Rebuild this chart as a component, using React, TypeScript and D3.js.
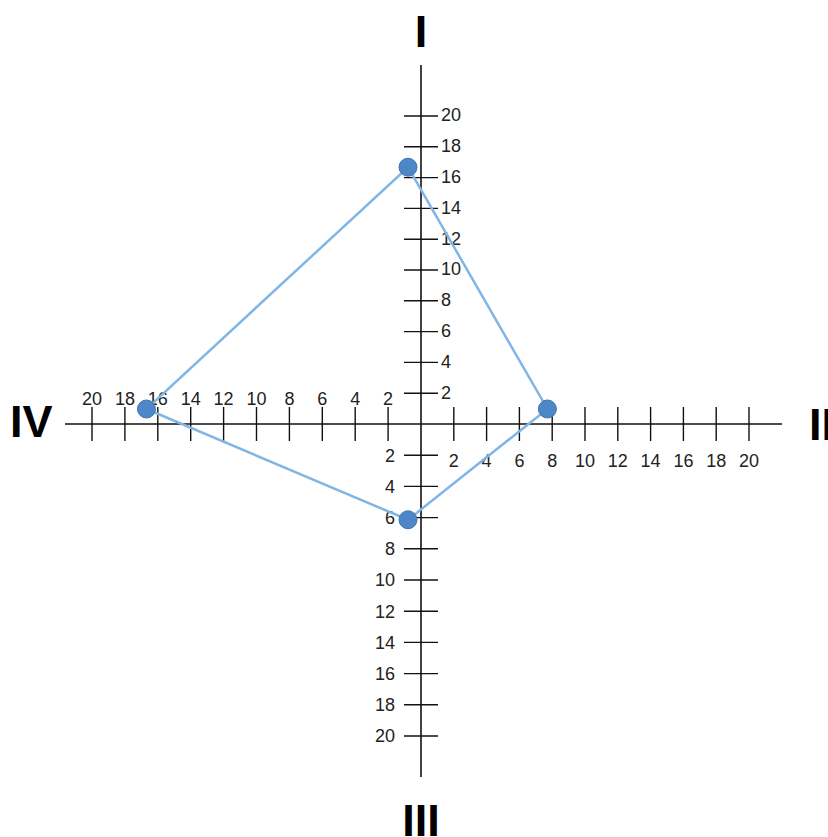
import React, { useRef, useEffect } from 'react'
import * as d3 from 'd3'

// axis names, clockwise from the top
const axisNames = ['I', 'II', 'III', 'IV']
// series values (one per axis)
const seriesValues = [15.7, 8.5, 7.1, 15.9]
// tick values shown on every axis
const tickValues = [2, 4, 6, 8, 10, 12, 14, 16, 18, 20]

function RadarAxes() {
    const svgRef = useRef<SVGSVGElement>(null)

    useEffect(() => {
        const svg = d3.select(svgRef.current)
        svg.selectAll('*').remove()

        const cx = 421, cy = 424
        // one scale per arm, the picture is not quite square
        const up = d3.scaleLinear().domain([0, 20]).range([cy, 116])
        const right = d3.scaleLinear().domain([0, 20]).range([cx, 749])
        const down = d3.scaleLinear().domain([0, 20]).range([cy, 736])
        const left = d3.scaleLinear().domain([0, 20]).range([cx, 92])

        const font = '"Liberation Sans", Arial, sans-serif'
        const g = svg.append('g')

        // axis lines
        g.append('line').attr('x1', cx).attr('x2', cx).attr('y1', 65).attr('y2', 777)
            .attr('stroke', '#111').attr('stroke-width', 1.6)
        g.append('line').attr('x1', 65).attr('x2', 782).attr('y1', cy).attr('y2', cy)
            .attr('stroke', '#111').attr('stroke-width', 1.6)

        const tl = 17
        // vertical arm ticks
        const vTicks = [
            ...tickValues.map(v => ({ v, y: up(v), side: 'r' })),
            ...tickValues.map(v => ({ v, y: down(v), side: 'l' })),
        ]
        g.selectAll('.vtick').data(vTicks).join('line').attr('class', 'vtick')
            .attr('x1', cx - tl).attr('x2', cx + tl)
            .attr('y1', d => d.y).attr('y2', d => d.y)
            .attr('stroke', '#111').attr('stroke-width', 1.4)
        g.selectAll('.vlab').data(vTicks).join('text').attr('class', 'vlab')
            .attr('x', d => d.side === 'r' ? cx + 20 : cx - 26)
            .attr('y', d => d.side === 'r' ? d.y - 1 : d.y)
            .attr('dy', '0.35em')
            .attr('text-anchor', d => d.side === 'r' ? 'start' : 'end')
            .attr('font-family', font).attr('font-size', 18).attr('fill', '#222')
            .text(d => d.v)

        // horizontal arm ticks
        const hTicks = [
            ...tickValues.map(v => ({ v, x: right(v), side: 'b' })),
            ...tickValues.map(v => ({ v, x: left(v), side: 't' })),
        ]
        g.selectAll('.htick').data(hTicks).join('line').attr('class', 'htick')
            .attr('x1', d => d.x).attr('x2', d => d.x)
            .attr('y1', cy - tl).attr('y2', cy + tl)
            .attr('stroke', '#111').attr('stroke-width', 1.4)
        g.selectAll('.hlab').data(hTicks).join('text').attr('class', 'hlab')
            .attr('x', d => d.x)
            .attr('y', d => d.side === 'b' ? 467 : 405)
            .attr('text-anchor', 'middle')
            .attr('font-family', font).attr('font-size', 18).attr('fill', '#222')
            .text(d => d.v)

        // arm titles
        const titles = [
            { t: axisNames[0], x: cx, y: 47, a: 'middle' },
            { t: axisNames[1], x: 809, y: 440, a: 'start' },
            { t: axisNames[2], x: cx, y: 836, a: 'middle' },
            { t: axisNames[3], x: 10, y: 437, a: 'start' },
        ]
        g.selectAll('.title').data(titles).join('text').attr('class', 'title')
            .attr('x', d => d.x).attr('y', d => d.y)
            .attr('text-anchor', d => d.a)
            .attr('font-family', font).attr('font-weight', 'bold').attr('font-size', 45)
            .attr('fill', '#000')
            .text(d => d.t)

        // the series sits on a slightly shifted origin, as in the original
        const ox = cx - 13, oy = cy - 15
        const k = (s: d3.ScaleLinear<number, number>) => (v: number) => s(v) - s(0)
        const pts: [number, number][] = [
            [ox, oy + k(up)(seriesValues[0])],
            [ox + k(right)(seriesValues[1]), oy],
            [ox, oy + k(down)(seriesValues[2])],
            [ox + k(left)(seriesValues[3]), oy],
        ]
        const line = d3.line().curve(d3.curveLinearClosed)
        g.append('path').attr('d', line(pts))
            .attr('fill', 'none').attr('stroke', '#80b6e6').attr('stroke-width', 2.5)
        g.selectAll('.pt').data(pts).join('ellipse').attr('class', 'pt')
            .attr('cx', d => d[0]).attr('cy', d => d[1])
            .attr('rx', 9).attr('ry', 9)
            .attr('fill', '#4e87c7').attr('stroke', '#3f74b0').attr('stroke-width', 1)
    }, [])

    return (
        <svg ref={svgRef} width={828} height={837}
            style={{ position: 'absolute', left: 0, top: 0, background: '#fff' }}>
        </svg>
    )
}

export default function App() {
    return <RadarAxes />
}
